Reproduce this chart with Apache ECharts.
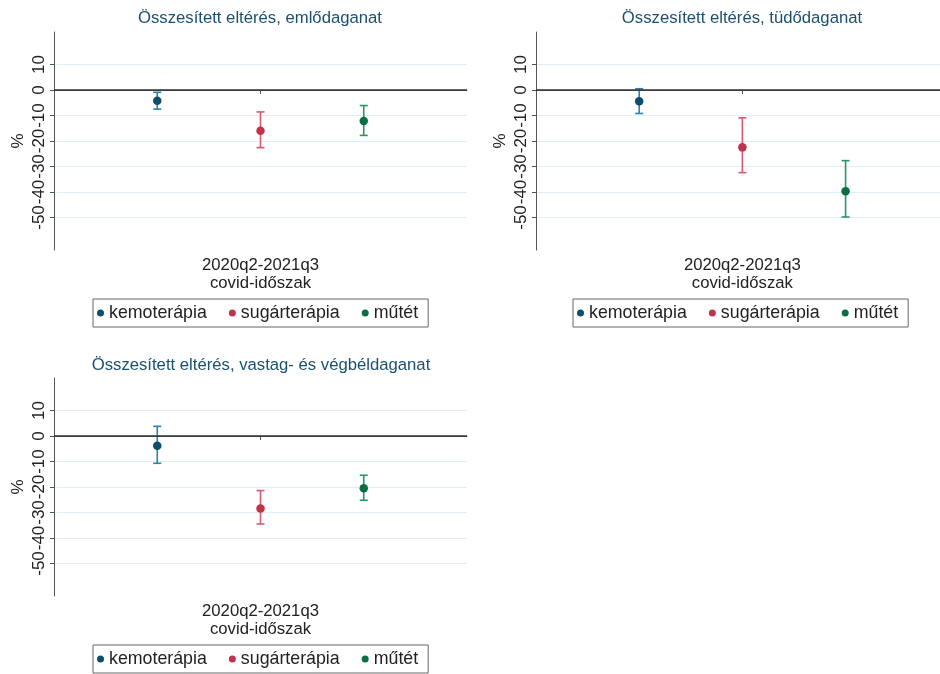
<!DOCTYPE html>
<html>
<head>
<meta charset="utf-8">
<script src="https://cdn.jsdelivr.net/npm/echarts@6/dist/echarts.min.js"></script>
<style>html,body{margin:0;padding:0;background:#fff}#c{width:940px;height:674px}</style>
</head>
<body>
<div id="c"></div>
<script>
var categories = ['kemoterápia', 'sugárterápia', 'műtét'];
var panelTitles = ['Összesített eltérés, emlődaganat', 'Összesített eltérés, tüdődaganat', 'Összesített eltérés, vastag- és végbéldaganat'];
var estBreast = [-4.2, -16.0, -12.2];
var loBreast = [-7.5, -22.6, -17.8];
var hiBreast = [-0.9, -8.6, -6.1];
var estLung = [-4.4, -22.5, -39.7];
var loLung = [-9.2, -32.4, -49.8];
var hiLung = [0.5, -10.9, -27.7];
var estColo = [-3.8, -28.4, -20.5];
var loColo = [-10.7, -34.5, -25.2];
var hiColo = [3.8, -21.4, -15.4];
var yTicks = [-50, -40, -30, -20, -10, 0, 10];
var xTickLabel = '2020q2-2021q3\ncovid-időszak';
var yAxisName = '%';

var FONT = 'Liberation Sans, Arial, sans-serif';
var pointColors = ['#0f4d6e', '#c0334a', '#0a6e45'];
var lineColors = ['#2a84ab', '#d45a70', '#259865'];

var panels = [
  {est: estBreast, lo: loBreast, hi: hiBreast, grid: {left: 54, top: 32, width: 413, height: 218}, xMax: 4, title: [260, 18], legend: {left: 93, top: 299}},
  {est: estLung, lo: loLung, hi: hiLung, grid: {left: 536, top: 32, width: 404, height: 218}, xMax: 3.915, title: [742, 18], legend: {left: 573, top: 299}},
  {est: estColo, lo: loColo, hi: hiColo, grid: {left: 54, top: 378, width: 413, height: 218}, xMax: 4, title: [261, 365], legend: {left: 93, top: 645}}
];

var option = {
  backgroundColor: '#fff',
  animation: false,
  textStyle: {fontFamily: FONT},
  grid: [], xAxis: [], yAxis: [], series: [], legend: [],
  graphic: []
};

panels.forEach(function (p, pi) {
  option.grid.push(Object.assign({containLabel: false}, p.grid));
  option.xAxis.push({
    type: 'value', gridIndex: pi, min: 0, max: p.xMax,
    axisLine: {show: true, lineStyle: {color: '#555', width: 1}},
    axisTick: {show: true, length: 4, customValues: [2], lineStyle: {color: '#555'}},
    axisLabel: {customValues: [2], formatter: function () { return xTickLabel; }, fontSize: 16.7, lineHeight: 18, color: '#222', fontFamily: FONT, margin: 6},
    splitLine: {show: false}
  });
  option.yAxis.push({
    type: 'value', gridIndex: pi, min: -62.75, max: 22.75,
    name: yAxisName, nameLocation: 'middle', nameGap: 27, nameRotate: 90,
    nameTextStyle: {fontSize: 17, color: '#222', fontFamily: FONT},
    axisLine: {show: true, lineStyle: {color: '#555', width: 1}},
    axisTick: {show: true, length: 4, customValues: yTicks, lineStyle: {color: '#555'}},
    axisLabel: {customValues: yTicks, rotate: 90, fontSize: 17, color: '#222', fontFamily: FONT, margin: 6},
    splitLine: {show: true, lineStyle: {color: '#dceef6', width: 1}}
  });
  categories.forEach(function (name, ci) {
    option.series.push({
      type: 'custom', xAxisIndex: pi, yAxisIndex: pi, z: 2, silent: true,
      data: [[ci + 1, p.lo[ci], p.hi[ci]]],
      renderItem: function (params, api) {
        var top = api.coord([api.value(0), api.value(2)]);
        var bot = api.coord([api.value(0), api.value(1)]);
        var cw = 4;
        var st = {stroke: lineColors[ci], lineWidth: 1.6};
        return {type: 'group', children: [
          {type: 'line', shape: {x1: top[0], y1: top[1], x2: bot[0], y2: bot[1]}, style: st},
          {type: 'line', shape: {x1: top[0] - cw, y1: top[1], x2: top[0] + cw, y2: top[1]}, style: st},
          {type: 'line', shape: {x1: bot[0] - cw, y1: bot[1], x2: bot[0] + cw, y2: bot[1]}, style: st}
        ]};
      }
    });
    var sc = {
      type: 'scatter', name: name, xAxisIndex: pi, yAxisIndex: pi, z: 5,
      symbol: 'circle', symbolSize: 8.5,
      itemStyle: {color: pointColors[ci], opacity: 1},
      data: [[ci + 1, p.est[ci]]]
    };
    if (ci === 0) {
      sc.markLine = {silent: true, symbol: 'none', label: {show: false},
        lineStyle: {color: '#333', width: 1.6, type: 'solid', opacity: 1}, data: [{yAxis: 0}]};
    }
    option.series.push(sc);
  });
  option.legend.push({
    left: p.legend.left, top: p.legend.top,
    data: categories.map(function (n) { return {name: n, icon: 'circle'}; }),
    orient: 'horizontal', itemWidth: 7, itemHeight: 7, itemGap: 22,
    borderColor: '#666', borderWidth: 1, padding: [5, 10, 5, 4],
    textStyle: {fontSize: 17.8, color: '#222', fontFamily: FONT},
    selectedMode: false
  });
  option.graphic.push({
    type: 'text', x: p.title[0], y: p.title[1],
    style: {text: panelTitles[pi], fontSize: 16.7, fill: '#1a5072', fontFamily: FONT, textAlign: 'center', textVerticalAlign: 'middle'}
  });
});

var chart = echarts.init(document.getElementById('c'), null, {renderer: 'canvas'});
chart.setOption(option);
</script>
</body>
</html>
